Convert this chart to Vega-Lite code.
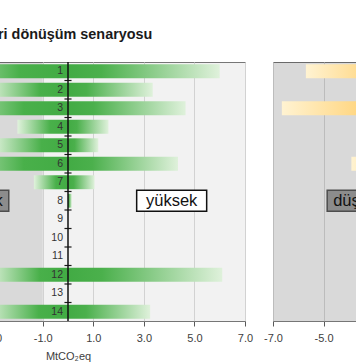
{
  "$schema": "https://vega.github.io/schema/vega-lite/v6.json",
  "autosize": {"type": "pad"},
  "padding": {"left": -119, "top": 27, "right": 0, "bottom": 0},
  "background": "white",
  "bounds": "flush",
  "spacing": 28,
  "title": {"text": "ri dönüşüm senaryosu", "anchor": "start", "frame": "group", "dx": 107, "offset": 7, "baseline": "alphabetic", "font": "Liberation Sans", "fontSize": 14.4, "fontWeight": "bold", "color": "#1a1a1a"},
  "datasets": {
    "greens": [
      {"row": 1, "start": -5.5, "end": 6.0},
      {"row": 2, "start": -3.2, "end": 3.35},
      {"row": 3, "start": -5.0, "end": 4.65},
      {"row": 4, "start": -2.0, "end": 1.6},
      {"row": 5, "start": -3.0, "end": 1.2},
      {"row": 6, "start": -5.0, "end": 4.35},
      {"row": 7, "start": -1.35, "end": 1.05},
      {"row": 8, "start": null, "end": 0.15},
      {"row": 9, "start": null, "end": null},
      {"row": 10, "start": null, "end": null},
      {"row": 11, "start": null, "end": null},
      {"row": 12, "start": -3.2, "end": 6.1},
      {"row": 13, "start": null, "end": null},
      {"row": 14, "start": -3.3, "end": 3.25}
    ],
    "yellows": [
      {"row": 1, "start": -5.7, "end": null},
      {"row": 2, "start": null, "end": null},
      {"row": 3, "start": -6.65, "end": null},
      {"row": 4, "start": null, "end": null},
      {"row": 5, "start": null, "end": null},
      {"row": 6, "start": -3.9, "end": null},
      {"row": 7, "start": null, "end": null},
      {"row": 8, "start": null, "end": null},
      {"row": 9, "start": null, "end": null},
      {"row": 10, "start": null, "end": null},
      {"row": 11, "start": null, "end": null},
      {"row": 12, "start": null, "end": null},
      {"row": 13, "start": null, "end": null},
      {"row": 14, "start": null, "end": null}
    ],
    "zones": [{"from": -7, "to": -1}],
    "notesLeft": [{"label": "düşük", "pos": -3.45, "row": 8}, {"label": "yüksek", "pos": 4.1, "row": 8}],
    "notesRight": [{"label": "düşük", "pos": -3.75, "row": 8}, {"label": "yüksek", "pos": 4.1, "row": 8}]
  },
  "config": {
    "view": {"fill": "#f2f2f2", "stroke": "#767676", "strokeWidth": 1},
    "font": "Liberation Sans",
    "axisX": {"labelFontSize": 11, "labelColor": "#404040", "labelFlush": false, "labelOverlap": false, "labelExpr": "replace(format(datum.value, '.1f'), '\u2212', '-')", "tickSize": 5, "tickColor": "#595959", "domain": false, "grid": true, "gridColor": "#d2d2d2", "labelPadding": 6, "titleFontSize": 11, "titleFontWeight": "normal", "titleColor": "#404040", "titlePadding": 7}
  },
  "hconcat": [
    {
      "width": 354,
      "height": 259,
      "layer": [
        {
          "data": {"name": "zones"},
          "mark": {"type": "rect", "fill": "#000000", "fillOpacity": 0.1},
          "encoding": {
            "x": {"field": "from", "type": "quantitative", "title": "MtCO₂eq", "scale": {"domain": [-7, 7], "nice": false, "zero": false}, "axis": {"values": [-7, -5, -3, -1, 1, 3, 5, 7], "title": "MtCO₂eq"}},
            "x2": {"field": "to"}
          }
        },
        {
          "data": {"name": "greens"},
          "transform": [{"filter": "datum.start != null"}],
          "mark": {"type": "bar", "height": {"band": 0.75}, "color": {"gradient": "linear", "x1": 0, "y1": 0, "x2": 1, "y2": 0, "stops": [{"offset": 0, "color": "#e0f2dc"}, {"offset": 0.65, "color": "#49b04a"}, {"offset": 1, "color": "#42ab44"}]}},
          "encoding": {
            "x": {"field": "start", "type": "quantitative", "title": "MtCO₂eq", "axis": {"values": [-7, -5, -3, -1, 1, 3, 5, 7], "title": "MtCO₂eq"}},
            "x2": {"datum": 0},
            "y": {"field": "row", "type": "ordinal", "scale": {"domain": [1, 2, 3, 4, 5, 6, 7, 8, 9, 10, 11, 12, 13, 14], "paddingInner": 0, "paddingOuter": 0}, "axis": null}
          }
        },
        {
          "data": {"name": "greens"},
          "transform": [{"filter": "datum.end != null"}],
          "mark": {"type": "bar", "height": {"band": 0.75}, "color": {"gradient": "linear", "x1": 0, "y1": 0, "x2": 1, "y2": 0, "stops": [{"offset": 0, "color": "#42ab44"}, {"offset": 0.22, "color": "#4bb04c"}, {"offset": 1, "color": "#dff1db"}]}},
          "encoding": {
            "x": {"field": "end", "type": "quantitative", "title": "MtCO₂eq", "axis": {"values": [-7, -5, -3, -1, 1, 3, 5, 7], "title": "MtCO₂eq"}},
            "x2": {"datum": 0},
            "y": {"field": "row", "type": "ordinal", "axis": null}
          }
        },
        {
          "data": {"name": "greens"},
          "transform": [{"filter": "datum.row >= 2"}],
          "mark": {"type": "rule", "color": "#1a1a1a", "strokeWidth": 1.2},
          "encoding": {
            "x": {"datum": -0.14, "type": "quantitative", "title": "MtCO₂eq", "axis": {"values": [-7, -5, -3, -1, 1, 3, 5, 7], "title": "MtCO₂eq"}},
            "x2": {"datum": 0.14},
            "y": {"field": "row", "type": "ordinal", "bandPosition": 0, "axis": null}
          }
        },
        {
          "data": {"name": "zones"},
          "mark": {"type": "rule", "color": "#111111", "strokeWidth": 1.5},
          "encoding": {"x": {"datum": 0, "type": "quantitative", "title": "MtCO₂eq", "axis": {"values": [-7, -5, -3, -1, 1, 3, 5, 7], "title": "MtCO₂eq"}}}
        },
        {
          "data": {"name": "greens"},
          "mark": {"type": "text", "align": "right", "baseline": "middle", "dx": -5, "fontSize": 10.5, "color": "#333333"},
          "encoding": {
            "x": {"datum": 0, "type": "quantitative", "title": "MtCO₂eq", "axis": {"values": [-7, -5, -3, -1, 1, 3, 5, 7], "title": "MtCO₂eq"}},
            "y": {"field": "row", "type": "ordinal", "axis": null},
            "text": {"field": "row"}
          }
        },
        {
          "data": {"name": "notesLeft"},
          "mark": {"type": "point", "filled": true, "opacity": 1, "strokeWidth": 1.5},
          "encoding": {
            "x": {"field": "pos", "type": "quantitative", "title": "MtCO₂eq", "axis": {"values": [-7, -5, -3, -1, 1, 3, 5, 7], "title": "MtCO₂eq"}},
            "y": {"field": "row", "type": "ordinal", "axis": null},
            "shape": {"field": "label", "type": "nominal", "scale": {"domain": ["düşük", "yüksek"], "range": ["M-1,-0.375H1V0.375H-1Z", "M-1,-0.3H1V0.3H-1Z"]}, "legend": null},
            "size": {"field": "label", "type": "nominal", "scale": {"domain": ["düşük", "yüksek"], "range": [3136, 4900]}, "legend": null},
            "fill": {"field": "label", "type": "nominal", "scale": {"domain": ["düşük", "yüksek"], "range": ["#8c8c8c", "#ffffff"]}, "legend": null},
            "stroke": {"field": "label", "type": "nominal", "scale": {"domain": ["düşük", "yüksek"], "range": ["#4d4d4d", "#111111"]}, "legend": null}
          }
        },
        {
          "data": {"name": "notesLeft"},
          "mark": {"type": "text", "baseline": "middle", "fontSize": 16.5, "color": "#111111"},
          "encoding": {
            "x": {"field": "pos", "type": "quantitative", "title": "MtCO₂eq", "axis": {"values": [-7, -5, -3, -1, 1, 3, 5, 7], "title": "MtCO₂eq"}},
            "y": {"field": "row", "type": "ordinal", "axis": null},
            "text": {"field": "label"}
          }
        }
      ]
    },
    {
      "width": 354,
      "height": 259,
      "layer": [
        {
          "data": {"name": "zones"},
          "mark": {"type": "rect", "fill": "#000000", "fillOpacity": 0.1},
          "encoding": {
            "x": {"field": "from", "type": "quantitative", "title": "MtCO₂eq", "scale": {"domain": [-7, 7], "nice": false, "zero": false}, "axis": {"values": [-7, -5, -3, -1, 1, 3, 5, 7], "title": "MtCO₂eq"}},
            "x2": {"field": "to"}
          }
        },
        {
          "data": {"name": "yellows"},
          "transform": [{"filter": "datum.start != null"}],
          "mark": {"type": "bar", "height": {"band": 0.75}, "color": {"gradient": "linear", "x1": 0, "y1": 0, "x2": 1, "y2": 0, "stops": [{"offset": 0, "color": "#fff3d2"}, {"offset": 0.65, "color": "#ffca60"}, {"offset": 1, "color": "#ffc555"}]}},
          "encoding": {
            "x": {"field": "start", "type": "quantitative", "title": "MtCO₂eq", "axis": {"values": [-7, -5, -3, -1, 1, 3, 5, 7], "title": "MtCO₂eq"}},
            "x2": {"datum": 0},
            "y": {"field": "row", "type": "ordinal", "scale": {"domain": [1, 2, 3, 4, 5, 6, 7, 8, 9, 10, 11, 12, 13, 14], "paddingInner": 0, "paddingOuter": 0}, "axis": null}
          }
        },
        {
          "data": {"name": "yellows"},
          "transform": [{"filter": "datum.row >= 2"}],
          "mark": {"type": "rule", "color": "#1a1a1a", "strokeWidth": 1.2},
          "encoding": {
            "x": {"datum": -0.14, "type": "quantitative", "title": "MtCO₂eq", "axis": {"values": [-7, -5, -3, -1, 1, 3, 5, 7], "title": "MtCO₂eq"}},
            "x2": {"datum": 0.14},
            "y": {"field": "row", "type": "ordinal", "bandPosition": 0, "axis": null}
          }
        },
        {
          "data": {"name": "zones"},
          "mark": {"type": "rule", "color": "#111111", "strokeWidth": 1.5},
          "encoding": {"x": {"datum": 0, "type": "quantitative", "title": "MtCO₂eq", "axis": {"values": [-7, -5, -3, -1, 1, 3, 5, 7], "title": "MtCO₂eq"}}}
        },
        {
          "data": {"name": "yellows"},
          "mark": {"type": "text", "align": "right", "baseline": "middle", "dx": -5, "fontSize": 10.5, "color": "#333333"},
          "encoding": {
            "x": {"datum": 0, "type": "quantitative", "title": "MtCO₂eq", "axis": {"values": [-7, -5, -3, -1, 1, 3, 5, 7], "title": "MtCO₂eq"}},
            "y": {"field": "row", "type": "ordinal", "axis": null},
            "text": {"field": "row"}
          }
        },
        {
          "data": {"name": "notesRight"},
          "mark": {"type": "point", "filled": true, "opacity": 1, "strokeWidth": 1.5},
          "encoding": {
            "x": {"field": "pos", "type": "quantitative", "title": "MtCO₂eq", "axis": {"values": [-7, -5, -3, -1, 1, 3, 5, 7], "title": "MtCO₂eq"}},
            "y": {"field": "row", "type": "ordinal", "axis": null},
            "shape": {"field": "label", "type": "nominal", "scale": {"domain": ["düşük", "yüksek"], "range": ["M-1,-0.375H1V0.375H-1Z", "M-1,-0.3H1V0.3H-1Z"]}, "legend": null},
            "size": {"field": "label", "type": "nominal", "scale": {"domain": ["düşük", "yüksek"], "range": [3136, 4900]}, "legend": null},
            "fill": {"field": "label", "type": "nominal", "scale": {"domain": ["düşük", "yüksek"], "range": ["#8c8c8c", "#ffffff"]}, "legend": null},
            "stroke": {"field": "label", "type": "nominal", "scale": {"domain": ["düşük", "yüksek"], "range": ["#4d4d4d", "#111111"]}, "legend": null}
          }
        },
        {
          "data": {"name": "notesRight"},
          "mark": {"type": "text", "baseline": "middle", "fontSize": 16.5, "color": "#111111"},
          "encoding": {
            "x": {"field": "pos", "type": "quantitative", "title": "MtCO₂eq", "axis": {"values": [-7, -5, -3, -1, 1, 3, 5, 7], "title": "MtCO₂eq"}},
            "y": {"field": "row", "type": "ordinal", "axis": null},
            "text": {"field": "label"}
          }
        }
      ]
    }
  ]
}
